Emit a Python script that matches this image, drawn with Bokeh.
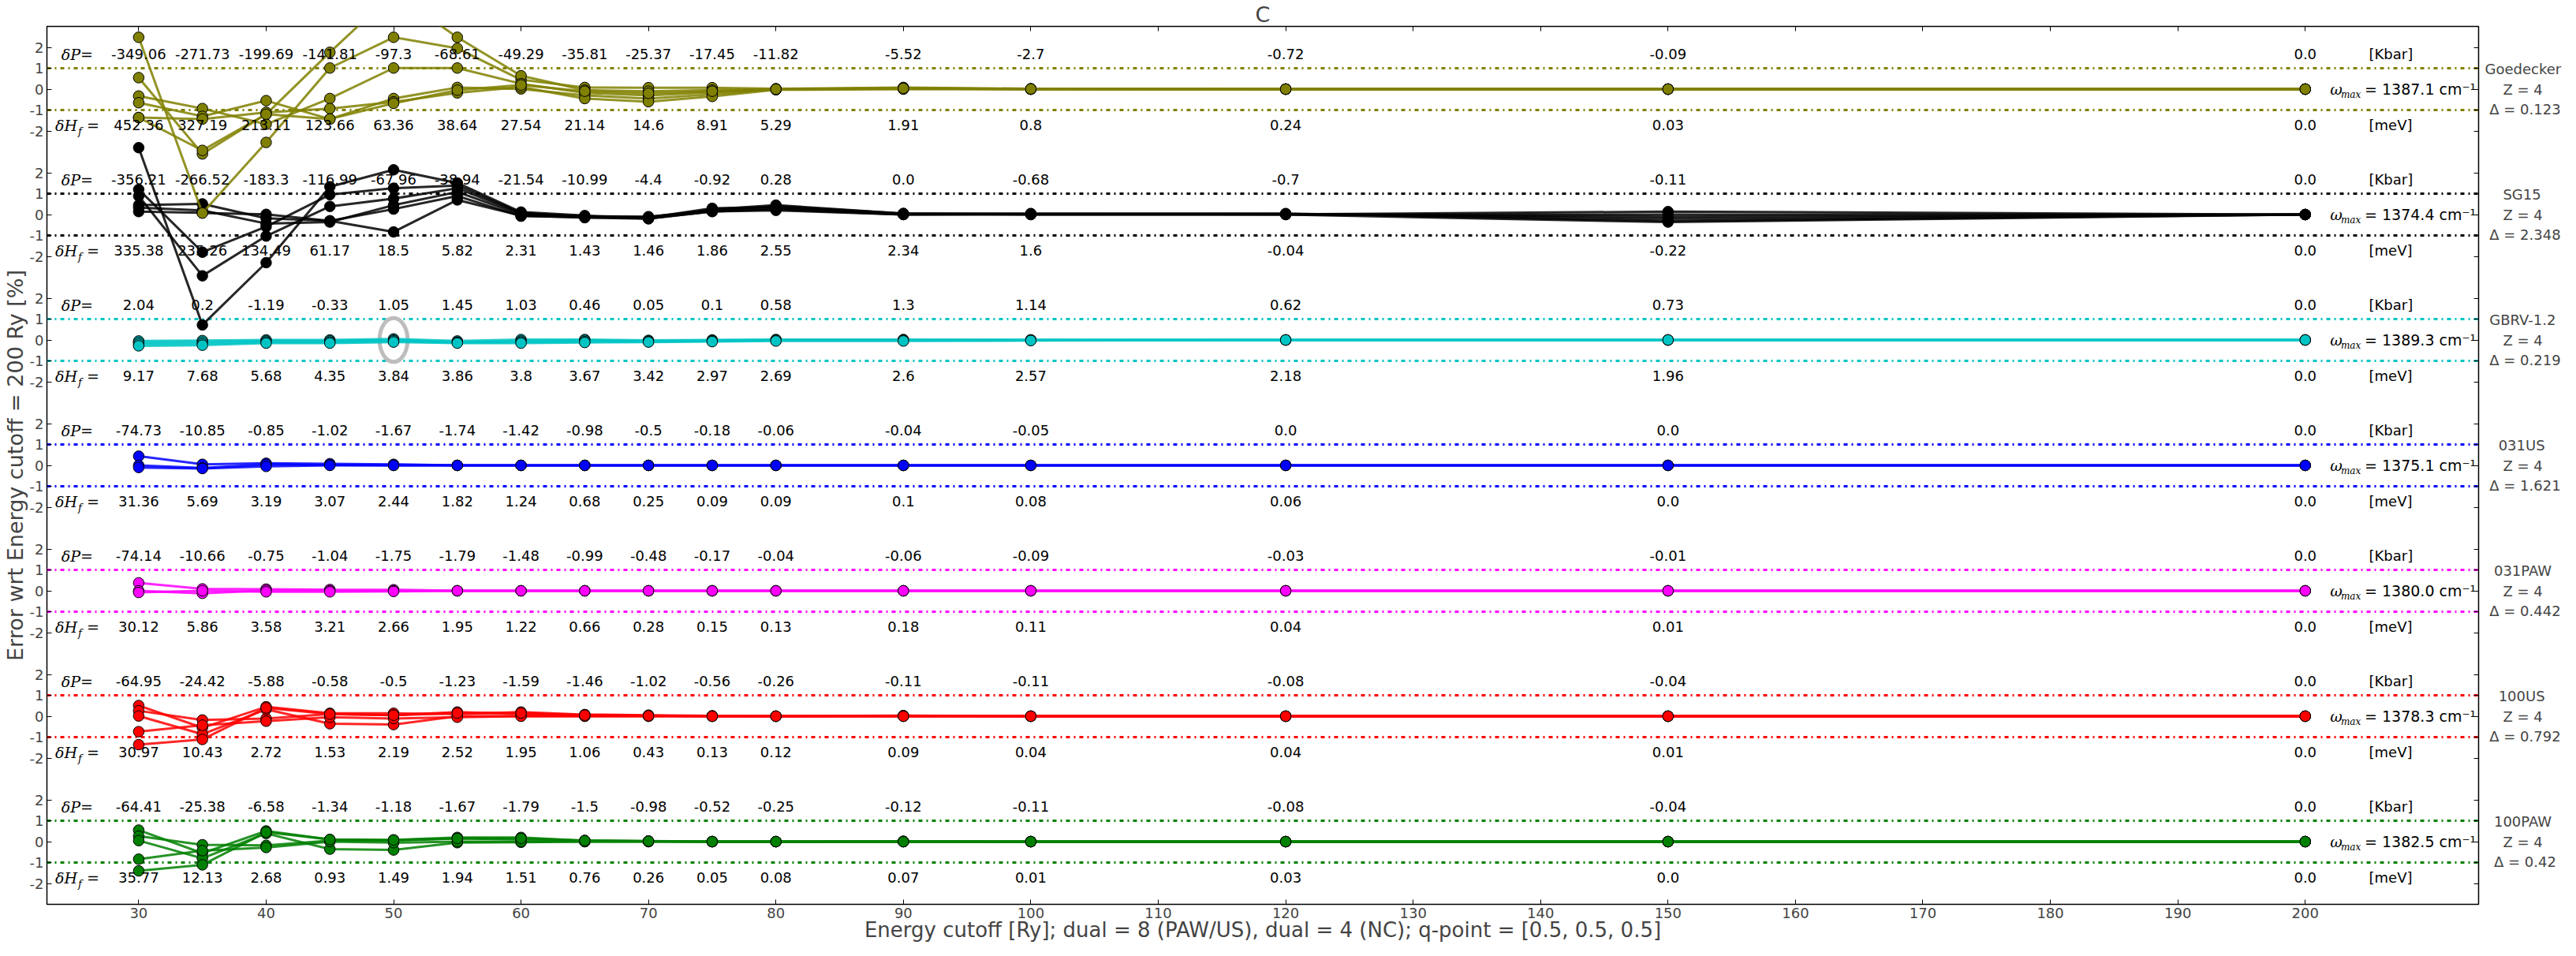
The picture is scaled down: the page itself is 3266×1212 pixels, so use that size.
from bokeh.plotting import figure
from bokeh.models import (ColumnDataSource, FixedTicker, CustomJSTickFormatter,
                          LinearAxis, Span)
from bokeh.core.properties import value
from bokeh.embed import file_html
from bokeh.resources import INLINE

# ---------------- data ----------------
cutoffs = [30, 35, 40, 45, 50, 55, 60, 65, 70, 75, 80, 90, 100, 120, 150, 200]
x_tick_values = [30, 40, 50, 60, 70, 80, 90, 100, 110, 120, 130, 140, 150, 160, 170, 180, 190, 200]
y_tick_levels = [2, 1, 0, -1, -2]

pseudo_names = ["Goedecker", "SG15", "GBRV-1.2", "031US", "031PAW", "100US", "100PAW"]
pseudo_colors = ["#808000", "#000000", "#00c4c4", "#0000ff", "#ff00ff", "#ff0000", "#008000"]
z_valence = [4, 4, 4, 4, 4, 4, 4]
delta_values = ["0.123", "2.348", "0.219", "1.621", "0.442", "0.792", "0.42"]
omega_max = ["1387.1", "1374.4", "1389.3", "1375.1", "1380.0", "1378.3", "1382.5"]

dP_goedecker = [-349.06, -271.73, -199.69, -141.81, -97.3, -68.61, -49.29, -35.81, -25.37, -17.45, -11.82, -5.52, -2.7, -0.72, -0.09, 0.0]
dH_goedecker = [452.36, 327.19, 213.11, 123.66, 63.36, 38.64, 27.54, 21.14, 14.6, 8.91, 5.29, 1.91, 0.8, 0.24, 0.03, 0.0]
dP_sg15 = [-356.21, -266.52, -183.3, -116.99, -67.96, -38.94, -21.54, -10.99, -4.4, -0.92, 0.28, 0.0, -0.68, -0.7, -0.11, 0.0]
dH_sg15 = [335.38, 235.26, 134.49, 61.17, 18.5, 5.82, 2.31, 1.43, 1.46, 1.86, 2.55, 2.34, 1.6, -0.04, -0.22, 0.0]
dP_gbrv = [2.04, 0.2, -1.19, -0.33, 1.05, 1.45, 1.03, 0.46, 0.05, 0.1, 0.58, 1.3, 1.14, 0.62, 0.73, 0.0]
dH_gbrv = [9.17, 7.68, 5.68, 4.35, 3.84, 3.86, 3.8, 3.67, 3.42, 2.97, 2.69, 2.6, 2.57, 2.18, 1.96, 0.0]
dP_031us = [-74.73, -10.85, -0.85, -1.02, -1.67, -1.74, -1.42, -0.98, -0.5, -0.18, -0.06, -0.04, -0.05, 0.0, 0.0, 0.0]
dH_031us = [31.36, 5.69, 3.19, 3.07, 2.44, 1.82, 1.24, 0.68, 0.25, 0.09, 0.09, 0.1, 0.08, 0.06, 0.0, 0.0]
dP_031paw = [-74.14, -10.66, -0.75, -1.04, -1.75, -1.79, -1.48, -0.99, -0.48, -0.17, -0.04, -0.06, -0.09, -0.03, -0.01, 0.0]
dH_031paw = [30.12, 5.86, 3.58, 3.21, 2.66, 1.95, 1.22, 0.66, 0.28, 0.15, 0.13, 0.18, 0.11, 0.04, 0.01, 0.0]
dP_100us = [-64.95, -24.42, -5.88, -0.58, -0.5, -1.23, -1.59, -1.46, -1.02, -0.56, -0.26, -0.11, -0.11, -0.08, -0.04, 0.0]
dH_100us = [30.97, 10.43, 2.72, 1.53, 2.19, 2.52, 1.95, 1.06, 0.43, 0.13, 0.12, 0.09, 0.04, 0.04, 0.01, 0.0]
dP_100paw = [-64.41, -25.38, -6.58, -1.34, -1.18, -1.67, -1.79, -1.5, -0.98, -0.52, -0.25, -0.12, -0.11, -0.08, -0.04, 0.0]
dH_100paw = [35.77, 12.13, 2.68, 0.93, 1.49, 1.94, 1.51, 0.76, 0.26, 0.05, 0.08, 0.07, 0.01, 0.03, 0.0, 0.0]

err_goedecker = [
    [2.48, -5.93, -2.55, 1.01, 2.48, 1.95, 0.45, 0.08, 0.07, 0.07, 0.02, 0.08, 0.02, 0.0, 0.0, 0.0],
    [0.55, -3.10, -1.20, 1.76, 4.60, 2.48, 0.64, -0.05, -0.10, -0.05, 0.0, 0.05, 0.0, 0.0, 0.0, 0.0],
    [-0.33, -0.93, -1.68, -0.45, 1.01, 1.01, 0.26, -0.18, -0.30, -0.15, -0.02, 0.03, 0.0, 0.0, 0.0, 0.0],
    [-0.65, -1.30, -0.55, -1.43, -0.45, 0.08, 0.01, -0.30, -0.45, -0.25, 0.0, 0.02, 0.0, 0.0, 0.0, 0.0],
    [-1.36, -1.43, -1.11, -0.93, -0.61, -0.18, 0.10, -0.45, -0.60, -0.35, -0.03, 0.0, 0.0, 0.0, 0.0, 0.0],
    [-1.36, -2.93, -1.20, -1.43, -0.68, -0.05, 0.20, -0.10, -0.20, -0.10, 0.0, 0.04, 0.01, 0.0, 0.0, 0.0],
]
err_sg15 = [
    [3.20, -5.28, -2.30, 1.33, 2.14, 1.51, 0.12, -0.05, -0.20, 0.25, 0.45, 0.05, 0.05, 0.05, -0.30, 0.0],
    [1.20, -1.80, -0.58, 0.95, 1.26, 1.39, 0.08, -0.10, -0.15, 0.30, 0.35, 0.03, 0.03, 0.03, -0.20, 0.0],
    [0.89, -2.93, -1.03, 0.39, 0.76, 1.26, 0.05, -0.10, -0.12, 0.20, 0.30, 0.02, 0.02, 0.02, -0.10, 0.0],
    [0.45, 0.51, -0.18, -0.30, -0.83, 0.70, -0.05, -0.15, -0.20, 0.15, 0.20, 0.0, 0.02, 0.0, -0.36, 0.0],
    [0.33, 0.20, -0.43, -0.36, 0.45, 1.08, 0.0, -0.08, -0.10, 0.20, 0.40, 0.05, 0.0, 0.0, 0.0, 0.0],
    [0.14, 0.08, 0.01, -0.30, 0.26, 0.89, -0.08, -0.12, -0.18, 0.14, 0.25, 0.0, 0.0, 0.01, 0.14, 0.0],
]
err_gbrv = [
    [-0.05, -0.03, 0.0, 0.0, 0.05, -0.05, 0.02, 0.02, -0.02, 0.0, 0.02, 0.02, 0.0, 0.0, 0.0, 0.0],
    [-0.12, -0.10, -0.05, -0.05, 0.0, -0.10, -0.05, -0.02, -0.05, -0.02, 0.0, 0.0, 0.0, 0.0, 0.0, 0.0],
    [-0.20, -0.18, -0.10, -0.10, -0.05, -0.12, -0.10, -0.08, -0.08, -0.05, -0.02, -0.02, 0.0, 0.0, 0.0, 0.0],
    [-0.28, -0.25, -0.15, -0.15, -0.10, -0.15, -0.15, -0.12, -0.10, -0.08, -0.05, -0.05, -0.03, 0.0, 0.0, 0.0],
]
err_031us = [
    [0.44, 0.05, 0.10, 0.08, 0.05, 0.0, 0.0, 0.0, 0.0, 0.0, 0.0, 0.0, 0.0, 0.0, 0.0, 0.0],
    [0.0, -0.12, 0.05, 0.02, 0.0, 0.0, 0.0, 0.0, 0.0, 0.0, 0.0, 0.0, 0.0, 0.0, 0.0, 0.0],
    [-0.10, -0.15, -0.05, 0.0, 0.0, 0.0, 0.0, 0.0, 0.0, 0.0, 0.0, 0.0, 0.0, 0.0, 0.0, 0.0],
]
err_031paw = [
    [0.38, 0.09, 0.08, 0.06, 0.05, 0.0, 0.0, 0.0, 0.0, 0.0, 0.0, 0.0, 0.0, 0.0, 0.0, 0.0],
    [0.0, -0.12, 0.02, 0.0, 0.0, 0.0, 0.0, 0.0, 0.0, 0.0, 0.0, 0.0, 0.0, 0.0, 0.0, 0.0],
    [-0.08, 0.0, -0.05, -0.05, -0.03, 0.0, 0.0, 0.0, 0.0, 0.0, 0.0, 0.0, 0.0, 0.0, 0.0, 0.0],
]
err_100us = [
    [0.51, -0.55, 0.45, 0.14, 0.14, 0.10, 0.20, 0.08, 0.05, 0.02, 0.0, 0.03, 0.0, 0.0, 0.0, 0.0],
    [0.26, -0.18, -0.11, 0.10, 0.05, 0.20, 0.10, 0.05, 0.03, 0.0, 0.0, 0.02, 0.0, 0.0, 0.0, 0.0],
    [0.01, -0.86, 0.33, -0.36, -0.40, 0.0, 0.01, 0.0, 0.0, 0.0, 0.0, 0.0, 0.0, 0.0, 0.0, 0.0],
    [-0.74, -0.43, -0.24, -0.05, -0.11, -0.05, 0.0, 0.0, 0.0, 0.0, 0.0, 0.0, 0.0, 0.0, 0.0, 0.0],
    [-1.36, -1.11, 0.40, 0.10, 0.05, 0.15, 0.15, 0.05, 0.02, 0.0, 0.0, 0.0, 0.0, 0.0, 0.0, 0.0],
]
err_100paw = [
    [0.55, -0.55, 0.51, 0.10, 0.08, 0.20, 0.20, 0.05, 0.03, 0.0, 0.0, 0.02, 0.0, 0.0, 0.0, 0.0],
    [0.26, -0.15, -0.18, 0.05, 0.05, 0.15, 0.10, 0.05, 0.02, 0.0, 0.0, 0.0, 0.0, 0.0, 0.0, 0.0],
    [0.05, -0.80, 0.39, -0.36, -0.40, -0.05, -0.03, 0.0, 0.0, 0.0, 0.0, 0.0, 0.0, 0.0, 0.0, 0.0],
    [-0.84, -0.43, -0.28, 0.0, -0.05, 0.0, 0.0, 0.0, 0.0, 0.0, 0.0, 0.0, 0.0, 0.0, 0.0, 0.0],
    [-1.40, -1.11, 0.45, 0.10, 0.08, 0.15, 0.15, 0.05, 0.02, 0.0, 0.0, 0.0, 0.0, 0.0, 0.0, 0.0],
]

highlight_cutoff = 50
highlight_panel = 2

all_dP = [dP_goedecker, dP_sg15, dP_gbrv, dP_031us, dP_031paw, dP_100us, dP_100paw]
all_dH = [dH_goedecker, dH_sg15, dH_gbrv, dH_031us, dH_031paw, dH_100us, dH_100paw]
all_err = [err_goedecker, err_sg15, err_gbrv, err_031us, err_031paw, err_100us, err_100paw]

# ---------------- layout / style ----------------
STEP = 6
offsets = [-STEP * i for i in range(len(pseudo_names))]
FONT = "DejaVu Sans"
MATH = "DejaVu Serif"

# approximate DejaVu Sans advance widths (em) used to centre the right-hand label lines
_ADV = {"G": .775, "o": .612, "e": .615, "d": .635, "c": .550, "k": .579, "r": .411, "S": .635,
        "B": .686, "R": .695, "V": .684, "-": .361, ".": .318, "U": .732, "P": .603, "A": .684,
        "W": .989, "Z": .685, " ": .318, "=": .838, "Δ": .684}


def _width(s):
    return sum(_ADV.get(ch, .636) for ch in s)


def _centre_lines(lines, box_em):
    out = []
    for ln in lines:
        n = int(round((box_em - _width(ln)) / 2 / .318))
        out.append("\u00a0" * max(n, 0) + ln)
    return "\n".join(out)


p = figure(width=3250, height=1196, x_range=(22.8, 213.6), y_range=(-39, 3),
           output_backend="svg", toolbar_location=None,
           min_border_left=51, min_border_right=101, min_border_top=0, min_border_bottom=40)
p.xgrid.visible = False
p.ygrid.visible = False
p.outline_line_color = "black"
p.outline_line_width = 1.5
p.background_fill_color = "white"

p.title.text = "C"
p.title.align = "center"
p.title.text_font = FONT
p.title.text_font_size = "27px"
p.title.text_font_style = "normal"
p.title.standoff = 0
p.title.offset = 0

# bottom axis
xa = p.below[0]
xa.ticker = FixedTicker(ticks=x_tick_values)
xa.major_tick_in = 6
xa.major_tick_out = 0
xa.minor_tick_in = 0
xa.minor_tick_out = 0
xa.axis_line_color = None
xa.major_label_text_font = FONT
xa.major_label_text_font_size = "18px"
xa.major_label_standoff = 4
xa.axis_label = "Energy cutoff [Ry]; dual = 8 (PAW/US), dual = 4 (NC); q-point = [0.5, 0.5, 0.5]"
xa.axis_label_text_font = FONT
xa.axis_label_text_font_size = "26px"
xa.axis_label_text_font_style = "normal"
xa.axis_label_standoff = -3

# left axis
y_ticks = [off + lv for off in offsets for lv in y_tick_levels]
ya = p.left[0]
ya.ticker = FixedTicker(ticks=y_ticks)
ya.formatter = CustomJSTickFormatter(code="const v = Math.round(tick - 6*Math.round(tick/6)); return v.toString();")
ya.major_tick_in = 6
ya.major_tick_out = 0
ya.minor_tick_in = 0
ya.minor_tick_out = 0
ya.axis_line_color = None
ya.major_label_text_font = FONT
ya.major_label_text_font_size = "18px"
ya.major_label_standoff = 4
ya.axis_label = "Error wrt Energy cutoff = 200 Ry [%]"
ya.axis_label_text_font = FONT
ya.axis_label_text_font_size = "27px"
ya.axis_label_text_font_style = "normal"
ya.axis_label_standoff = 0

# top axis: ticks only
top = LinearAxis(ticker=FixedTicker(ticks=x_tick_values), formatter=CustomJSTickFormatter(code="return '';"),
                 major_tick_in=6, major_tick_out=0, minor_tick_in=0, minor_tick_out=0,
                 axis_line_color=None, major_label_standoff=0, major_label_text_font_size="1px")
p.add_layout(top, "above")

# right axis: ticks + pseudopotential description labels
label_lines = [[n, "Z = %d" % z, "Δ = %s" % d] for n, z, d in zip(pseudo_names, z_valence, delta_values)]
box_em = max(_width(ln) for lines in label_lines for ln in lines)
right_labels = {off: _centre_lines(lines, box_em) for off, lines in zip(offsets, label_lines)}
right = LinearAxis(ticker=FixedTicker(ticks=y_ticks), formatter=CustomJSTickFormatter(code="return '';"),
                   major_label_overrides=right_labels,
                   major_tick_in=6, major_tick_out=0, minor_tick_in=0, minor_tick_out=0,
                   axis_line_color=None, major_label_standoff=8,
                   major_label_text_font=FONT, major_label_text_font_size="18px",
                   major_label_text_line_height=1.2)
p.add_layout(right, "right")

# +-1 % threshold lines
for off, col in zip(offsets, pseudo_colors):
    for lv in (1, -1):
        p.add_layout(Span(location=off + lv, dimension="width", line_color=col,
                          line_width=3, line_dash="5 5 2 5", level="underlay"))

# highlight ring
p.ellipse(x=[highlight_cutoff], y=[offsets[highlight_panel]], width=2.2, height=2.1,
          fill_color=None, line_color="#bdbdbd", line_width=5)

# series (bottom panel first so upper panels sit on top)
for i in reversed(range(len(pseudo_names))):
    off = offsets[i]
    col = pseudo_colors[i]
    for s in all_err[i]:
        ys = [v + off for v in s]
        p.line(cutoffs, ys, line_color=col, line_width=3, line_alpha=0.85)
        p.scatter(cutoffs, ys, size=13.5, fill_color=col, line_color="black", line_width=1)

# numeric annotations
num_x, num_y, num_t = [], [], []
for i in range(len(pseudo_names)):
    off = offsets[i]
    for xv, dp, dh in zip(cutoffs, all_dP[i], all_dH[i]):
        num_x += [xv, xv]
        num_y += [off + 1.67, off - 1.72]
        num_t += [str(dp), str(dh)]
p.text(x="x", y="y", text="t", source=ColumnDataSource(dict(x=num_x, y=num_y, t=num_t)),
       text_font=value(FONT), text_font_size="18px", text_align="center",
       text_baseline="middle", text_color="black")

unit_x, unit_y, unit_t = [], [], []
for i in range(len(pseudo_names)):
    off = offsets[i]
    unit_x += [205.0, 205.0]
    unit_y += [off + 1.67, off - 1.72]
    unit_t += ["[Kbar]", "[meV]"]
p.text(x="x", y="y", text="t", source=ColumnDataSource(dict(x=unit_x, y=unit_y, t=unit_t)),
       text_font=value(FONT), text_font_size="18px", text_align="left",
       text_baseline="middle", text_color="black")

# math-like labels
dp_y = [off + 1.67 for off in offsets]
dh_y = [off - 1.72 for off in offsets]
p.text(x=[26.42] * 7, y=dp_y, text=["δP="] * 7, text_font=value(MATH), text_font_style="italic",
       text_font_size="19px", text_align="right", text_baseline="middle")
p.text(x=[25.19] * 7, y=dh_y, text=["δH"] * 7, text_font=value(MATH), text_font_style="italic",
       text_font_size="19px", text_align="right", text_baseline="middle")
p.text(x=[25.25] * 7, y=[v - 0.3 for v in dh_y], text=["f"] * 7, text_font=value(MATH),
       text_font_style="italic", text_font_size="13px", text_align="left", text_baseline="middle")
p.text(x=[25.93] * 7, y=dh_y, text=["="] * 7, text_font=value(MATH),
       text_font_size="19px", text_align="left", text_baseline="middle")

p.text(x=[201.95] * 7, y=offsets, text=["ω"] * 7, text_font=value(MATH), text_font_style="italic",
       text_font_size="19px", text_align="left", text_baseline="middle")
p.text(x=[202.8] * 7, y=[o - 0.26 for o in offsets], text=["max"] * 7, text_font=value(MATH),
       text_font_style="italic", text_font_size="12px", text_align="left", text_baseline="middle")
p.text(x=[204.66] * 7, y=offsets, text=["= %s cm⁻¹" % w for w in omega_max], text_font=value(FONT),
       text_font_size="19px", text_align="left", text_baseline="middle")

open("out.html", "w").write(file_html(p, INLINE))
